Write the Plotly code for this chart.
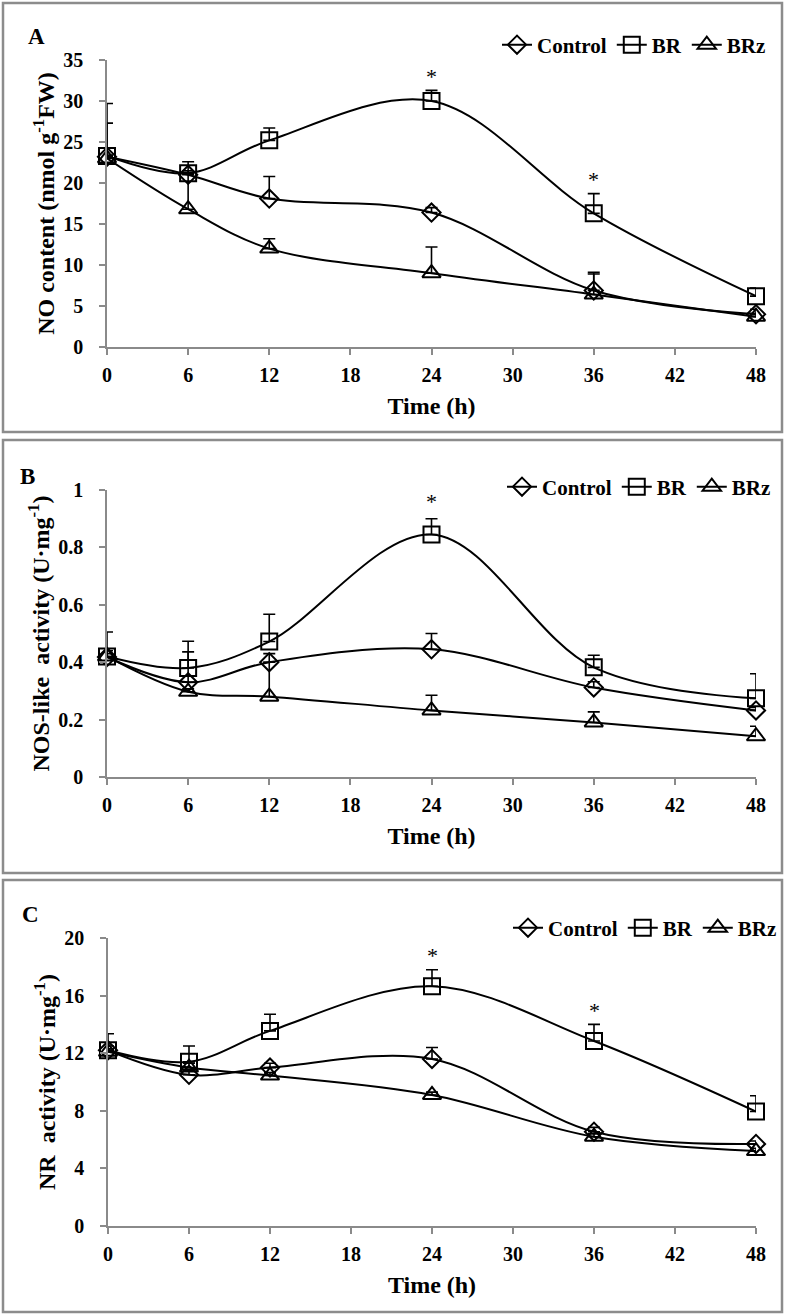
import plotly.graph_objects as go

# ---------------- data ----------------
time_h = [0, 6, 12, 24, 36, 48]
series_names = ["Control", "BR", "BRz"]

# Panel A: NO content (nmol g-1 FW)
a_control = [23.2, 21.0, 18.1, 16.4, 6.9, 4.0]
a_br = [23.3, 21.2, 25.2, 30.0, 16.3, 6.2]
a_brz = [23.0, 16.8, 12.0, 9.0, 6.4, 3.7]
a_control_err = [6.5, 0.5, 2.7, 0.6, 2.2, 0.6]
a_br_err = [4.0, 1.4, 1.5, 1.3, 2.4, 1.0]
a_brz_err = [0.4, 4.5, 1.2, 3.2, 2.5, 0.4]
a_sig = [24, 36]

# Panel B: NOS-like activity (U·mg-1)
b_control = [0.418, 0.33, 0.40, 0.445, 0.312, 0.232]
b_br = [0.42, 0.38, 0.472, 0.845, 0.382, 0.274]
b_brz = [0.42, 0.297, 0.28, 0.232, 0.19, 0.142]
b_control_err = [0.087, 0.106, 0.03, 0.055, 0.02, 0.01]
b_br_err = [0.02, 0.093, 0.095, 0.055, 0.042, 0.086]
b_brz_err = [0.01, 0.01, 0.12, 0.053, 0.037, 0.035]
b_sig = [24]

# Panel C: NR activity (U·mg-1)
c_control = [12.2, 10.5, 11.0, 11.6, 6.55, 5.7]
c_br = [12.2, 11.4, 13.55, 16.65, 12.85, 7.95]
c_brz = [12.1, 11.0, 10.45, 9.1, 6.2, 5.2]
c_control_err = [1.15, 0.3, 0.3, 0.8, 0.3, 0.2]
c_br_err = [0.3, 1.1, 1.15, 1.15, 1.15, 1.1]
c_brz_err = [0.2, 0.3, 0.2, 0.2, 0.2, 0.2]
c_sig = [24, 36]

x_ticks = [0, 6, 12, 18, 24, 30, 36, 42, 48]

# ---------------- styling ----------------
FONT = "Liberation Serif, Times New Roman, serif"
W, H = 787, 1315
AXIS_GRAY = "#8a8a8a"
symbols = ["diamond-open", "square-open", "triangle-up-open"]
msizes = [14, 16, 16]


def py(p):
    return 1 - p / H


def px(p):
    return p / W


panels = [
    dict(key="A", control=a_control, br=a_br, brz=a_brz,
         errs=[a_control_err, a_br_err, a_brz_err], sig=a_sig,
         yrange=[0, 35], dtick=5,
         ytitle="NO content (nmol g<sup>-1</sup>FW)",
         xdom=[px(107), px(756)], ydom=[py(347), py(60)],
         box=[3, 3, 782, 432], letter=(36, 37), legend_y=45, legend_x=771,
         star_shift=14),
    dict(key="B", control=b_control, br=b_br, brz=b_brz,
         errs=[b_control_err, b_br_err, b_brz_err], sig=b_sig,
         yrange=[0, 1], dtick=0.2,
         ytitle="NOS-like\u00a0 activity (U·mg<sup>-1</sup>)",
         xdom=[px(107), px(756)], ydom=[py(777), py(490)],
         box=[3, 440, 782, 873], letter=(27, 477), legend_y=487, legend_x=776,
         star_shift=17),
    dict(key="C", control=c_control, br=c_br, brz=c_brz,
         errs=[c_control_err, c_br_err, c_brz_err], sig=c_sig,
         yrange=[0, 20], dtick=4,
         ytitle="NR\u00a0 activity (U·mg<sup>-1</sup>)",
         xdom=[px(108), px(756)], ydom=[py(1226), py(938)],
         box=[3, 880, 782, 1312], letter=(30, 915), legend_y=928, legend_x=782,
         star_shift=14),
]

fig = go.Figure()
shapes = []
annotations = []
layout_extra = {}

for i, p in enumerate(panels):
    n = "" if i == 0 else str(i + 1)
    xa, ya = "x" + n, "y" + n
    legname = "legend" + n
    values = [p["control"], p["br"], p["brz"]]
    for s in range(3):
        fig.add_trace(go.Scatter(
            x=time_h, y=values[s], name=series_names[s],
            mode="lines+markers",
            line=dict(color="black", width=2, shape="spline", smoothing=1),
            marker=dict(symbol=symbols[s], size=msizes[s], color="black",
                        line=dict(width=2, color="black")),
            error_y=dict(type="data", symmetric=False, array=p["errs"][s],
                         arrayminus=[0] * len(time_h), color="black",
                         thickness=1.6, width=6),
            xaxis=xa, yaxis=ya, legend=legname, cliponaxis=False,
        ))
    # significance stars above BR
    for t in p["sig"]:
        k = time_h.index(t)
        annotations.append(dict(
            x=t, y=p["br"][k] + p["errs"][1][k], xref=xa, yref=ya,
            text="*", showarrow=False, yanchor="middle",
            yshift=p["star_shift"], font=dict(family=FONT, size=22, color="black")))
    # panel letter
    annotations.append(dict(
        x=px(p["letter"][0]), y=py(p["letter"][1]), xref="paper", yref="paper",
        text=p["key"], showarrow=False, xanchor="center", yanchor="middle",
        font=dict(family=FONT, size=23, color="black", weight="bold")))
    # panel border
    x0, y0, x1, y1 = p["box"]
    shapes.append(dict(type="rect", xref="paper", yref="paper",
                       x0=px(x0), x1=px(x1), y0=py(y1), y1=py(y0),
                       line=dict(color="#8c8c8c", width=2.5), fillcolor="rgba(0,0,0,0)",
                       layer="below"))
    axis_common = dict(showline=True, linecolor=AXIS_GRAY, linewidth=1.5,
                       ticks="outside", tickcolor=AXIS_GRAY, ticklen=6, tickwidth=1.5,
                       showgrid=False, zeroline=False, automargin=False,
                       tickfont=dict(family=FONT, size=20, color="black", weight="bold"))
    layout_extra["xaxis" + n] = dict(
        domain=p["xdom"], anchor=ya, range=[0, 48], tickvals=x_ticks,
        ticklabelstandoff=3,
        title=dict(text="Time (h)", standoff=12,
                   font=dict(family=FONT, size=24, color="black", weight="bold")),
        **axis_common)
    layout_extra["yaxis" + n] = dict(
        domain=p["ydom"], anchor=xa, range=p["yrange"], dtick=p["dtick"], tick0=0,
        ticklabelstandoff=12,
        title=dict(text=p["ytitle"], standoff=2,
                   font=dict(family=FONT, size=24, color="black", weight="bold")),
        **axis_common)
    layout_extra[legname] = dict(
        x=px(p["legend_x"]), xanchor="right", y=py(p["legend_y"]), yanchor="middle",
        orientation="h", itemwidth=30, bgcolor="rgba(0,0,0,0)", borderwidth=0,
        tracegroupgap=0, itemclick=False,
        font=dict(family=FONT, size=21, color="black", weight="bold"))

fig.update_layout(
    width=W, height=H, margin=dict(l=0, r=0, t=0, b=0, autoexpand=False),
    paper_bgcolor="white", plot_bgcolor="white",
    shapes=shapes, annotations=annotations, showlegend=True,
    **layout_extra)

fig.write_html("out.html", config={"displayModeBar": False},
               post_script="document.body.style.margin='0px';")
